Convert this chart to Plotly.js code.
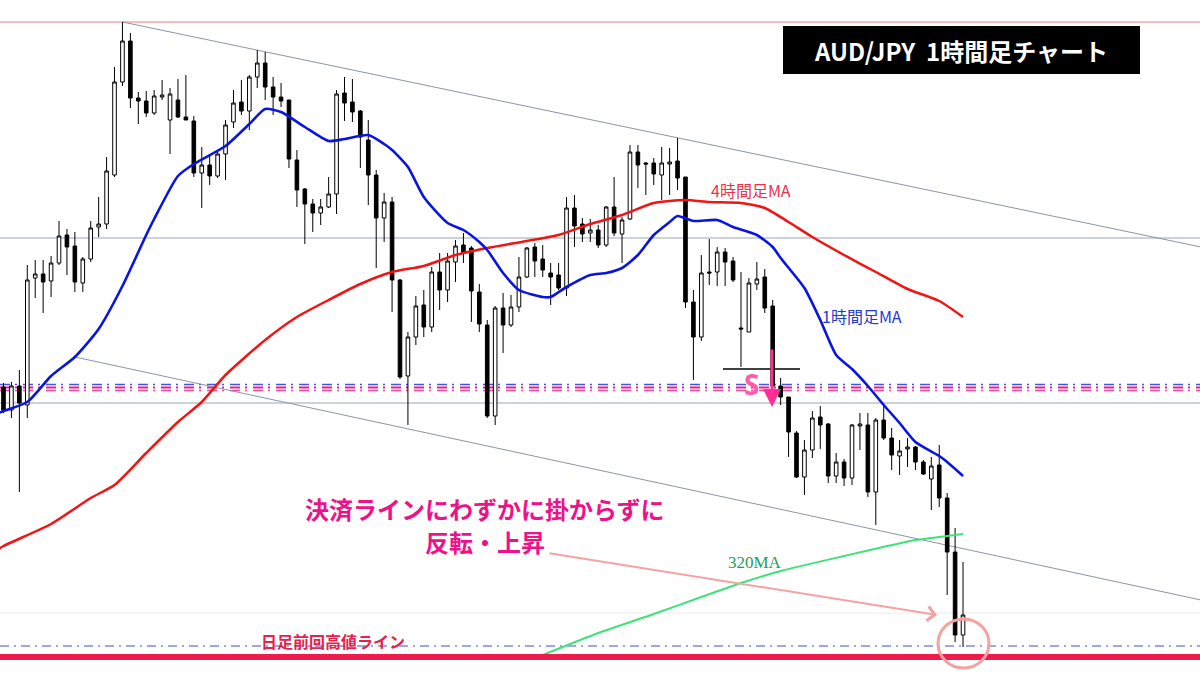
<!DOCTYPE html>
<html>
<head>
<meta charset="utf-8">
<script src="https://cdn.plot.ly/plotly-3.0.1.min.js"></script>
<style>html,body{margin:0;padding:0;background:#fff;}#chart{width:1200px;height:675px;}</style>
</head>
<body>
<div id="chart"></div>
<script>
// ---- AUD/JPY 1h candles (index 0..121) ----
const open = [76.13,75.90,76.14,75.95,77.22,77.26,77.19,77.37,77.65,77.54,
77.17,77.41,77.73,77.76,78.25,79.18,79.59,79.02,78.99,78.87,
79.03,78.80,79.00,78.83,78.79,78.27,78.35,78.24,78.46,78.78,
78.98,78.89,79.23,79.37,79.13,79.03,79.00,78.40,78.11,77.96,
77.87,77.93,78.06,79.07,78.98,78.89,78.60,78.25,77.82,77.98,
77.20,76.24,76.63,76.95,76.73,77.28,77.10,77.38,77.55,77.52,
77.08,76.75,75.84,76.92,76.75,76.93,77.23,77.53,77.41,77.27,
77.25,77.12,77.92,77.76,77.67,77.70,77.55,77.93,77.66,77.81,
78.48,78.37,78.37,78.25,78.36,78.39,78.23,76.98,76.63,77.28,
77.28,77.48,77.39,76.72,76.68,77.16,77.23,76.94,76.14,76.03,
75.67,75.23,75.50,75.83,75.76,75.24,75.38,75.22,75.74,75.75,
75.08,75.80,75.62,75.44,75.51,75.53,75.38,75.21,75.35,75.02,
74.48,73.65];
const high = [76.17,76.18,76.30,77.35,77.40,77.40,77.44,77.79,77.71,77.68,
77.43,77.79,78.03,78.43,79.33,79.78,79.67,79.08,79.09,79.10,
79.20,79.12,79.21,79.25,78.84,78.53,78.44,78.50,78.80,79.10,
79.20,79.25,79.50,79.48,79.23,79.17,79.00,78.50,78.12,78.01,
78.01,78.23,79.10,79.23,79.21,78.90,78.80,78.30,78.07,78.03,
77.21,76.68,77.04,77.10,77.33,77.47,77.47,77.60,77.67,77.54,
77.16,76.80,76.94,77.07,77.05,77.43,77.53,77.57,77.55,77.37,
77.37,78.03,78.05,77.82,77.81,77.75,77.94,78.23,77.83,78.55,
78.55,78.38,78.42,78.53,78.52,78.62,78.23,77.10,77.45,77.61,
77.53,77.52,77.43,77.28,77.22,77.38,77.31,77.00,76.22,76.03,
75.69,75.60,75.89,75.94,75.77,75.47,75.41,75.76,75.87,75.87,
75.82,75.94,75.72,75.60,75.62,75.54,75.40,75.43,75.55,75.07,
74.72,74.38];
const low = [75.87,75.82,75.08,75.82,77.02,76.87,77.03,77.35,77.25,77.08,
77.08,77.38,77.63,77.71,78.23,79.14,78.92,78.76,78.83,78.85,
79.00,78.46,78.82,78.80,78.23,77.92,78.15,78.22,78.20,78.72,
78.85,78.70,79.12,79.00,78.85,78.93,78.32,77.93,77.56,77.68,
77.75,77.92,77.86,78.79,78.78,78.32,77.95,77.32,77.58,76.88,
76.21,75.75,76.55,76.63,76.68,76.90,76.98,77.18,77.37,76.78,
76.68,75.82,75.75,76.47,76.73,76.88,77.22,77.23,77.23,76.95,
77.10,77.04,77.53,77.58,77.58,77.52,77.53,77.64,77.37,77.80,
78.12,78.05,78.15,78.00,78.05,78.10,76.92,76.20,76.59,77.15,
77.14,77.14,77.18,76.33,76.68,77.10,76.87,76.10,75.95,75.43,
75.22,75.05,75.42,75.51,75.17,75.17,75.14,75.15,75.50,75.03,
74.75,75.60,75.30,75.25,75.33,75.30,75.25,74.90,74.93,74.05,
73.58,73.53];
const close = [75.90,76.14,75.97,77.20,77.26,77.18,77.37,77.64,77.53,77.18,
77.41,77.72,77.76,78.29,79.18,79.59,79.02,78.99,78.87,79.04,
79.05,79.06,78.83,78.80,78.27,78.35,78.24,78.46,78.75,78.97,
78.89,79.23,79.37,79.13,79.03,78.99,78.41,78.10,77.96,77.87,
77.93,78.06,79.06,78.97,78.88,78.63,78.25,77.82,77.98,77.20,
76.23,76.63,76.94,76.73,77.28,77.10,77.39,77.54,77.47,77.09,
76.76,75.84,76.92,76.75,76.93,77.23,77.52,77.39,77.30,77.23,
77.12,77.92,77.74,77.66,77.70,77.55,77.93,77.67,77.80,78.48,
78.35,78.36,78.26,78.37,78.38,78.22,76.98,76.63,77.27,77.27,
77.48,77.38,77.20,76.71,77.17,77.21,76.92,76.14,76.03,75.68,
75.23,75.50,75.82,75.75,75.24,75.38,75.22,75.75,75.76,75.08,
75.80,75.62,75.45,75.49,75.53,75.38,75.26,75.34,75.02,74.48,
73.65,73.85];
const candleIdx = open.map((_, i) => i);

// ---- moving averages (sampled at candle indices) ----
const ma1hIdx = [-1,0,3,6,9,12,15,18,19,22,24,28,31,33,35,38,41,43,46,48,49,51,53,56,58,60,61,63,65,68,69,71,74,76,78,80,82,84,85,87,90,92,95,97,98,101,103,105,107,109,111,113,115,118,119,121];
const ma1h = [75.86,75.89,75.98,76.24,76.43,76.71,77.14,77.65,77.81,78.24,78.36,78.54,78.76,78.91,78.88,78.73,78.59,78.61,78.65,78.56,78.50,78.33,78.03,77.77,77.70,77.58,77.50,77.27,77.10,77.03,77.03,77.13,77.25,77.27,77.32,77.45,77.65,77.78,77.84,77.79,77.80,77.73,77.65,77.53,77.42,77.12,76.80,76.45,76.31,76.14,75.95,75.77,75.58,75.44,75.38,75.24];
const ma4hIdx = [-1,0,6,11,14,18,22,25,28,33,37,41,45,49,53,57,61,66,70,74,78,82,86,89,93,96,99,102,106,110,114,118,121];
const ma4h = [74.49,74.54,74.76,75.02,75.15,75.47,75.78,75.98,76.25,76.60,76.83,77.00,77.16,77.28,77.34,77.45,77.52,77.59,77.65,77.76,77.85,77.97,78.00,77.98,77.97,77.92,77.78,77.63,77.45,77.28,77.11,76.99,76.83];
const ma320Idx = [68,75,82,88,93,98,106,115,118,121];
const ma320 = [73.45,73.67,73.86,74.03,74.17,74.29,74.44,74.60,74.63,74.66];

// ---- trend channel and price levels ----
const chanUpIdx = [15, 151];
const chanUpPrice = [79.78, 77.53];
const chanLoIdx = [9, 151];
const chanLoPrice = [76.43, 74.00];
const levelPrevHigh = 79.78;
const levelsGray = [77.62, 75.97];
const levelsSettle = [76.155, 76.125, 76.095];
const levelFaint = 73.87;
const levelDailyDash = 73.54;
const levelDailyHigh = 73.43;

// pixel -> data helpers for annotation placement
const XP = px => (px - 3.5) / 7.93;
const YP = py => 80 - py / 100;
const X0 = XP(0), X1 = XP(1200);

const jp = '"Noto Sans CJK JP", "Noto Sans", sans-serif';

const traces = [
  {type:'candlestick', x:candleIdx, open:open, high:high, low:low, close:close,
   increasing:{line:{color:'#000', width:1}, fillcolor:'#ffffff'},
   decreasing:{line:{color:'#000', width:1}, fillcolor:'#000000'},
   whiskerwidth:0, hoverinfo:'skip', showlegend:false},
  {type:'scatter', mode:'lines', x:ma320Idx, y:ma320, line:{color:'#3fe27a', width:2, shape:'spline', smoothing:0.6}, hoverinfo:'skip'},
  {type:'scatter', mode:'lines', x:ma4hIdx, y:ma4h, line:{color:'#f01414', width:2.5, shape:'spline', smoothing:0.6}, hoverinfo:'skip'},
  {type:'scatter', mode:'lines', x:ma1hIdx, y:ma1h, line:{color:'#0a14e0', width:2.6, shape:'spline', smoothing:0.6}, hoverinfo:'skip'}
];

const hline = (y, color, width, dash, layer) => ({type:'line', xref:'x', yref:'y', x0:X0, x1:X1, y0:y, y1:y,
  line:{color:color, width:width, dash:dash || 'solid'}, layer:layer || 'below'});

const shapes = [
  hline(levelPrevHigh, '#f07a7a', 1),
  hline(levelsGray[0], '#9aa3b5', 1),
  hline(levelsGray[1], '#9aa3b5', 1),
  hline(levelFaint, '#ececec', 1),
  hline(levelsSettle[0], '#4656d8', 1.6, '10px,5px,2px,6px'),
  hline(levelsSettle[1], '#e8208c', 1.8, '10px,5px,2px,6px'),
  hline(levelsSettle[2], '#ee4aa0', 1.6, '10px,5px,2px,6px'),
  hline(levelDailyDash, '#3a4ed0', 1, '9px,5px,2px,5px'),
  {type:'line', xref:'x', yref:'y', x0:chanUpIdx[0], x1:chanUpIdx[1], y0:chanUpPrice[0], y1:chanUpPrice[1], line:{color:'#8c94a6', width:1}, layer:'below'},
  {type:'line', xref:'x', yref:'y', x0:chanLoIdx[0], x1:chanLoIdx[1], y0:chanLoPrice[0], y1:chanLoPrice[1], line:{color:'#8c94a6', width:1}, layer:'below'},
  hline(levelDailyHigh, '#ee1c4c', 6, 'solid', 'above'),
  {type:'line', xref:'x', yref:'y', x0:XP(723), x1:XP(800), y0:YP(369), y1:YP(369), line:{color:'#000', width:1.5}, layer:'above'},
  {type:'circle', xref:'x', yref:'y', x0:XP(938), x1:XP(989), y0:YP(668), y1:YP(619), line:{color:'#f4a2a2', width:3}, layer:'above'},
  {type:'rect', xref:'x', yref:'y', x0:XP(783), x1:XP(1140), y0:YP(74), y1:YP(26), fillcolor:'#000', line:{width:0}, layer:'above'}
];

const annotations = [
  {x:XP(961), y:YP(50), text:'<b>AUD/JPY  1時間足チャート</b>', showarrow:false, font:{family:jp, size:24, color:'#fff'}},
  {x:XP(751), y:YP(190), text:'4時間足MA', showarrow:false, font:{family:jp, size:16, color:'#e8334f'}},
  {x:XP(862), y:YP(316), text:'1時間足MA', showarrow:false, font:{family:jp, size:16, color:'#2438d0'}},
  {x:XP(755), y:YP(562), text:'320MA', showarrow:false, font:{family:'"Liberation Serif", serif', size:17, color:'#23a05a'}},
  {x:XP(485), y:YP(508), text:'<b>決済ラインにわずかに掛からずに</b>', showarrow:false, font:{family:jp, size:24, color:'#ee1289'}},
  {x:XP(485), y:YP(541), text:'<b>反転・上昇</b>', showarrow:false, font:{family:jp, size:24, color:'#ee1289'}},
  {x:XP(333), y:YP(641), text:'<b>日足前回高値ライン</b>', showarrow:false, font:{family:jp, size:16, color:'#e8204c'}},
  {x:XP(751), y:YP(384), text:'<b>S</b>', showarrow:false, font:{family:'"Noto Sans", sans-serif', size:28, color:'#ff5aae'}},
  {x:XP(937), y:YP(615), ax:XP(548), ay:YP(553), axref:'x', ayref:'y', text:'', showarrow:true, arrowhead:4, arrowsize:1.4, arrowwidth:2, arrowcolor:'#f4a3a3'},
  {x:XP(772), y:YP(407), ax:XP(772), ay:YP(348), axref:'x', ayref:'y', text:'', showarrow:true, arrowhead:2, arrowsize:1.2, arrowwidth:3, arrowcolor:'#ff2f97'}
];

const layout = {
  width:1200, height:675, margin:{l:0, r:0, t:0, b:0},
  paper_bgcolor:'#fff', plot_bgcolor:'#fff', showlegend:false, boxgap:0.35,
  xaxis:{range:[X0, X1], visible:false, rangeslider:{visible:false}, fixedrange:true},
  yaxis:{range:[YP(675), YP(0)], visible:false, fixedrange:true},
  shapes:shapes, annotations:annotations
};

Plotly.newPlot('chart', traces, layout, {staticPlot:true, displayModeBar:false});
</script>
</body>
</html>
